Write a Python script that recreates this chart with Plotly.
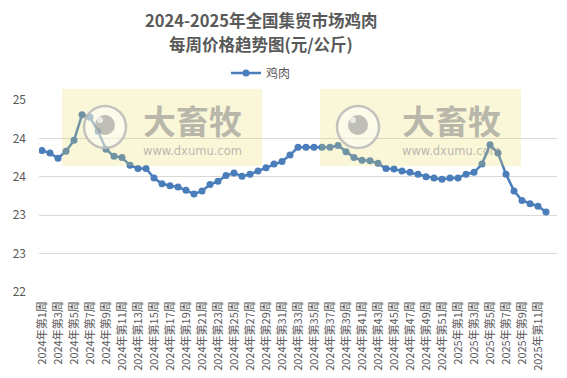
import plotly.graph_objects as go

weeks_2024 = [f"2024年第{i}周" for i in range(1, 53)]
weeks_2025 = [f"2025年第{i}周" for i in range(1, 13)]
categories = weeks_2024 + weeks_2025

prices_2024 = [24.21, 24.17, 24.09, 24.20, 24.37, 24.77, 24.73, 24.51, 24.23, 24.12,
               24.10, 23.98, 23.93, 23.93, 23.78, 23.69, 23.66, 23.64, 23.59, 23.53,
               23.58, 23.68, 23.73, 23.82, 23.86, 23.81, 23.84, 23.89, 23.94, 24.00,
               24.04, 24.14, 24.26, 24.26, 24.26, 24.26, 24.26, 24.29, 24.19, 24.10,
               24.06, 24.05, 24.01, 23.93, 23.92, 23.89, 23.87, 23.84, 23.80, 23.78,
               23.76, 23.78]
prices_2025 = [23.78, 23.84, 23.87, 24.00, 24.30, 24.17, 23.84, 23.58, 23.43, 23.38,
               23.34, 23.25]
prices = prices_2024 + prices_2025

y_ticks = [22, 22.6, 23.2, 23.8, 24.4, 25]
shown_ticks = categories[::2]
title_lines = ["2024-2025年全国集贸市场鸡肉", "每周价格趋势图(元/公斤)"]

# page body has an 8px default margin, so work in shifted coordinates
OFF = 8
W, H = 567 - OFF, 378 - OFF
L, R, T, B = 39 - OFF, 557 - OFF, 100 - OFF, 292 - OFF
FONT = "Noto Sans CJK SC, Noto Sans, sans-serif"
GREY = "#595959"

def px(x):
    return (x - OFF - L) / (R - L)

def py(y):
    return (B - (y - OFF)) / (B - T)

fig = go.Figure()
fig.add_trace(go.Scatter(
    x=categories, y=prices, name="鸡肉", mode="lines+markers",
    line=dict(color="#4A7EBB", width=2.5),
    marker=dict(color="#4A7EBB", size=7),
))

shapes = []
annotations = []
for (rx0, rx1, cx, tx) in [(62, 262, 105, 192), (320, 521, 358, 451)]:
    shapes.append(dict(type="rect", xref="paper", yref="paper",
                       x0=px(rx0), x1=px(rx1), y0=py(166), y1=py(89),
                       fillcolor="rgba(235,218,90,0.24)", line=dict(width=0), layer="above"))
    cy, r = 127, 21
    shapes.append(dict(type="circle", xref="paper", yref="paper",
                       x0=px(cx - r), x1=px(cx + r), y0=py(cy + r), y1=py(cy - r),
                       fillcolor="rgba(255,255,255,0.45)",
                       line=dict(color="rgba(185,185,185,0.85)", width=2.5), layer="above"))
    r2 = 10
    shapes.append(dict(type="circle", xref="paper", yref="paper",
                       x0=px(cx - r2), x1=px(cx + r2), y0=py(cy - 2 + r2), y1=py(cy - 2 - r2),
                       fillcolor="rgba(150,150,150,0.6)", line=dict(width=0), layer="above"))
    r3 = 3
    shapes.append(dict(type="circle", xref="paper", yref="paper",
                       x0=px(cx - 5 - r3), x1=px(cx - 5 + r3), y0=py(cy - 7 + r3), y1=py(cy - 7 - r3),
                       fillcolor="rgba(245,245,245,0.8)", line=dict(width=0), layer="above"))
    annotations.append(dict(text="<b>大畜牧</b>", xref="paper", yref="paper",
                            x=px(tx), y=py(120), xanchor="center", yanchor="middle",
                            showarrow=False, borderpad=0,
                            font=dict(family=FONT, size=33, color="rgba(140,140,140,0.6)")))
    annotations.append(dict(text="www.dxumu.com", xref="paper", yref="paper",
                            x=px(tx), y=py(151), xanchor="center", yanchor="middle",
                            showarrow=False, borderpad=0,
                            font=dict(family="DejaVu Sans, sans-serif", size=11.5,
                                      color="rgba(140,140,140,0.6)")))

for line_text, ly in zip(title_lines, [20, 43.5]):
    annotations.append(dict(text=f"<b>{line_text}</b>", xref="paper", yref="paper",
                            x=px(261), y=py(ly), xanchor="center", yanchor="middle",
                            showarrow=False, borderpad=0,
                            font=dict(family=FONT, size=16.5, color=GREY)))

fig.update_layout(
    width=W, height=H,
    margin=dict(l=L, r=W - R, t=T, b=H - B, autoexpand=False),
    paper_bgcolor="white", plot_bgcolor="white",
    showlegend=True,
    legend=dict(orientation="h", x=px(261), xanchor="center", y=py(73), yanchor="middle",
                font=dict(family=FONT, size=12, color=GREY), bgcolor="rgba(0,0,0,0)"),
    xaxis=dict(type="category", range=[-0.375, 64.375], tickmode="array",
               tickvals=shown_ticks, ticktext=shown_ticks, tickangle=-90,
               showgrid=False, zeroline=False, showline=False, ticks="",
               automargin=False, ticklabelstandoff=6,
               tickfont=dict(family=FONT, size=11, color=GREY)),
    yaxis=dict(range=[22, 25], tickmode="array", tickvals=y_ticks, tickformat=".0f",
               showgrid=True, gridcolor="#D9D9D9", gridwidth=1, zeroline=False,
               showline=False, ticks="", ticklabelstandoff=12, automargin=False,
               tickfont=dict(family=FONT, size=12, color=GREY)),
    shapes=shapes, annotations=annotations,
)

fig.write_html("out.html")
